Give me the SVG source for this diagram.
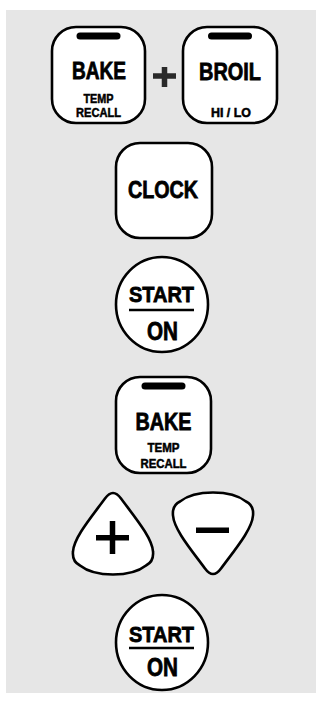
<svg xmlns="http://www.w3.org/2000/svg" xmlns:xlink="http://www.w3.org/1999/xlink" width="322" height="704" viewBox="0 0 322 704">
  <style>
    .btn { fill: #ffffff; stroke: #000000; stroke-width: 2.6; }
    .t { font-family: "Liberation Sans", Arial, sans-serif; font-weight: bold; fill: #000000; stroke: #000000; text-anchor: middle; }
    .big { font-size: 24px; stroke-width: 0.8; }
    .small { font-size: 12.5px; stroke-width: 0.5; }
    .start { font-size: 22.5px; stroke-width: 0.8; }
    .on { font-size: 26px; stroke-width: 0.8; }
    .bar { fill: #000000; }
    .uline { stroke: #000000; stroke-width: 2.6; }
  </style>
  <defs>
    <path id="pick" d="M -8,-35 Q 0,-46 8,-35 C 22,-16 39,4 40,18 Q 41,28 33,32 C 18,44 -18,44 -33,32 Q -41,28 -40,18 C -39,4 -22,-16 -8,-35 Z"/>
  </defs>
  <rect x="6" y="10" width="310" height="683" fill="#e6e6e6"/>

  <g id="bake-button-1">
    <rect class="btn" x="52" y="27" width="93" height="96" rx="24"/>
    <rect class="bar" x="76.5" y="32.5" width="44" height="7" rx="3.5"/>
    <text class="t big" x="99" y="79" textLength="54" lengthAdjust="spacingAndGlyphs">BAKE</text>
    <text class="t small" x="98.5" y="103" textLength="30" lengthAdjust="spacingAndGlyphs">TEMP</text>
    <text class="t small" x="98.5" y="117" textLength="45" lengthAdjust="spacingAndGlyphs">RECALL</text>
  </g>

  <g id="plus-sign">
    <rect x="153" y="73.25" width="23" height="5.5" fill="#2a2a2a"/>
    <rect x="161.75" y="67" width="5.5" height="20" fill="#2a2a2a"/>
  </g>

  <g id="broil-button">
    <rect class="btn" x="183" y="27" width="94" height="96" rx="24"/>
    <rect class="bar" x="208" y="32.5" width="44" height="7" rx="3.5"/>
    <text class="t big" x="230" y="80" textLength="62" lengthAdjust="spacingAndGlyphs">BROIL</text>
    <text class="t small" x="231" y="117" textLength="40" lengthAdjust="spacingAndGlyphs">HI / LO</text>
  </g>

  <g id="clock-button">
    <rect class="btn" x="116" y="143" width="96" height="95" rx="24"/>
    <text class="t big" x="163" y="198" textLength="70" lengthAdjust="spacingAndGlyphs">CLOCK</text>
  </g>

  <g id="start-button-1">
    <ellipse class="btn" cx="162" cy="304.5" rx="46" ry="47.5"/>
    <text class="t start" x="161.5" y="302" textLength="65" lengthAdjust="spacingAndGlyphs">START</text>
    <line class="uline" x1="129" y1="310" x2="194" y2="310"/>
    <text class="t on" x="162.5" y="340" textLength="31" lengthAdjust="spacingAndGlyphs">ON</text>
  </g>

  <g id="bake-button-2">
    <rect class="btn" x="116" y="377" width="95" height="96" rx="24"/>
    <rect class="bar" x="141.5" y="382.5" width="44" height="7" rx="3.5"/>
    <text class="t big" x="163.5" y="430" textLength="56" lengthAdjust="spacingAndGlyphs">BAKE</text>
    <text class="t small" x="163.5" y="452" textLength="32" lengthAdjust="spacingAndGlyphs">TEMP</text>
    <text class="t small" x="163.5" y="468" textLength="46" lengthAdjust="spacingAndGlyphs">RECALL</text>
  </g>

  <g id="plus-button">
    <use xlink:href="#pick" href="#pick" class="btn" transform="translate(113,533.5)"/>
    <rect x="96" y="535" width="33" height="5.5" fill="#000000"/>
    <rect x="109.75" y="521" width="5.5" height="33" fill="#000000"/>
  </g>

  <g id="minus-button">
    <use xlink:href="#pick" href="#pick" class="btn" transform="translate(213,533.5) scale(1,-1)"/>
    <rect x="196" y="527.5" width="33" height="5.5" fill="#000000"/>
  </g>

  <g id="start-button-2">
    <ellipse class="btn" cx="162" cy="642.5" rx="46" ry="47.5"/>
    <text class="t start" x="161.5" y="642" textLength="65" lengthAdjust="spacingAndGlyphs">START</text>
    <line class="uline" x1="129" y1="648" x2="194" y2="648"/>
    <text class="t on" x="162.5" y="676" textLength="31" lengthAdjust="spacingAndGlyphs">ON</text>
  </g>

  <g id="connectors"></g>
</svg>
